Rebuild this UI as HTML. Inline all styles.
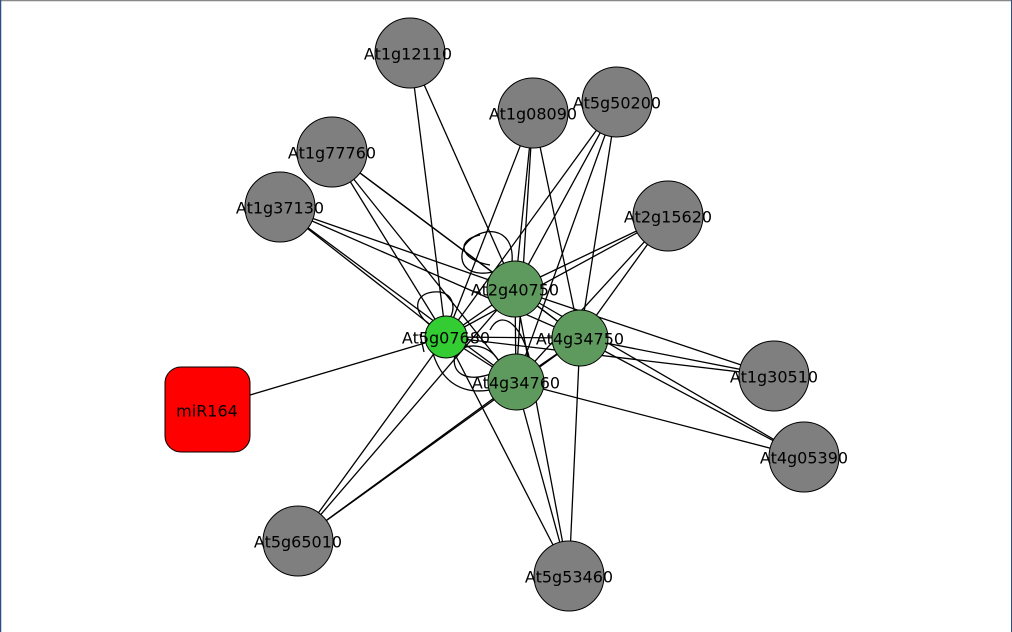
<!DOCTYPE html>
<html><head><style>
html,body{margin:0;padding:0;background:#fff}
svg{display:block}
text{font-family:"DejaVu Sans","Liberation Sans",sans-serif;font-size:16px;fill:#000;text-anchor:middle;dominant-baseline:central}
</style></head><body>
<svg width="1012" height="632" viewBox="0 0 1012 632">
<rect x="0" y="0" width="1012" height="632" fill="#fff"/>
<line x1="0" y1="0.5" x2="1012" y2="0.5" stroke="#888" stroke-width="1.5"/>
<line x1="0.5" y1="0" x2="0.5" y2="632" stroke="#2a5088" stroke-width="1.5"/>
<line x1="1011.5" y1="0" x2="1011.5" y2="632" stroke="#2a5088" stroke-width="1"/>
<g stroke="#000" stroke-width="1.3" fill="none">
<line x1="410" y1="53" x2="515" y2="289"/><line x1="410" y1="53" x2="446" y2="337"/>
<line x1="533" y1="113" x2="515" y2="289"/><line x1="533" y1="113" x2="446" y2="337"/><line x1="533" y1="113" x2="580" y2="338"/><line x1="533" y1="113" x2="516" y2="382"/>
<line x1="617" y1="102" x2="515" y2="289"/><line x1="617" y1="102" x2="446" y2="337"/><line x1="617" y1="102" x2="580" y2="338"/><line x1="617" y1="102" x2="516" y2="382"/>
<line x1="332" y1="152" x2="515" y2="289"/><line x1="332" y1="152" x2="446" y2="337"/><line x1="332" y1="152" x2="580" y2="338"/><line x1="332" y1="152" x2="516" y2="382"/>
<line x1="280" y1="207" x2="515" y2="289"/><line x1="280" y1="207" x2="446" y2="337"/><line x1="280" y1="207" x2="580" y2="338"/><line x1="280" y1="207" x2="516" y2="382"/>
<line x1="668" y1="216" x2="515" y2="289"/><line x1="668" y1="216" x2="446" y2="337"/><line x1="668" y1="216" x2="580" y2="338"/><line x1="668" y1="216" x2="516" y2="382"/>
<line x1="774" y1="376" x2="515" y2="289"/><line x1="774" y1="376" x2="580" y2="338"/><line x1="774" y1="376" x2="446" y2="337"/>
<line x1="804" y1="457" x2="515" y2="289"/><line x1="804" y1="457" x2="516" y2="382"/><line x1="804" y1="457" x2="580" y2="338"/>
<line x1="298" y1="541" x2="515" y2="289"/><line x1="298" y1="541" x2="446" y2="337"/><line x1="298" y1="541" x2="580" y2="338"/><line x1="298" y1="541" x2="516" y2="382"/>
<line x1="569" y1="576" x2="515" y2="289"/><line x1="569" y1="576" x2="446" y2="337"/><line x1="569" y1="576" x2="580" y2="338"/><line x1="569" y1="576" x2="516" y2="382"/>
<line x1="515" y1="289" x2="446" y2="337"/><line x1="515" y1="289" x2="580" y2="338"/><line x1="515" y1="289" x2="516" y2="382"/>
<line x1="446" y1="337" x2="580" y2="338"/><line x1="446" y1="337" x2="516" y2="382"/><line x1="580" y1="338" x2="516" y2="382"/>
<line x1="250" y1="395" x2="425" y2="343"/><line x1="420" y1="334" x2="424" y2="352"/>
<path d="M500 270 C470 280 455 265 465 245 C480 225 515 225 512 262"/>
<path d="M490 265 C460 260 455 240 480 235"/>
<path d="M430 325 C410 310 415 290 440 292 C455 295 455 310 450 318"/>
<path d="M432 350 C440 380 460 395 490 390"/>
<path d="M500 370 C470 385 450 375 455 355 C465 340 490 345 498 360"/>
<path d="M530 360 C520 320 500 310 490 330"/>
</g>
<g stroke="#000" stroke-width="1">
<circle cx="410" cy="53" r="35" fill="#7f7f7f"/>
<circle cx="533" cy="113" r="35" fill="#7f7f7f"/>
<circle cx="617" cy="102" r="35" fill="#7f7f7f"/>
<circle cx="332" cy="152" r="35" fill="#7f7f7f"/>
<circle cx="280" cy="207" r="35" fill="#7f7f7f"/>
<circle cx="668" cy="216" r="35" fill="#7f7f7f"/>
<circle cx="774" cy="376" r="35" fill="#7f7f7f"/>
<circle cx="804" cy="457" r="35" fill="#7f7f7f"/>
<circle cx="298" cy="541" r="35" fill="#7f7f7f"/>
<circle cx="569" cy="576" r="35" fill="#7f7f7f"/>
<circle cx="515" cy="289" r="28" fill="#5e9a5e"/>
<circle cx="580" cy="338" r="28" fill="#5e9a5e"/>
<circle cx="516" cy="382" r="28" fill="#5e9a5e"/>
<circle cx="446" cy="337" r="21" fill="#33cc33"/>
<rect x="165" y="367" width="85" height="85" rx="16" fill="#ff0000"/>
</g>
<text x="408" y="54">At1g12110</text>
<text x="533" y="114">At1g08090</text>
<text x="617" y="103">At5g50200</text>
<text x="332" y="153">At1g77760</text>
<text x="280" y="208">At1g37130</text>
<text x="668" y="217">At2g15620</text>
<text x="774" y="377">At1g30510</text>
<text x="804" y="458">At4g05390</text>
<text x="298" y="542">At5g65010</text>
<text x="569" y="577">At5g53460</text>
<text x="515" y="290">At2g40750</text>
<text x="580" y="339">At4g34750</text>
<text x="516" y="383">At4g34760</text>
<text x="446" y="338">At5g07680</text>
<text x="207" y="411">miR164</text>
</svg>
</body></html>
